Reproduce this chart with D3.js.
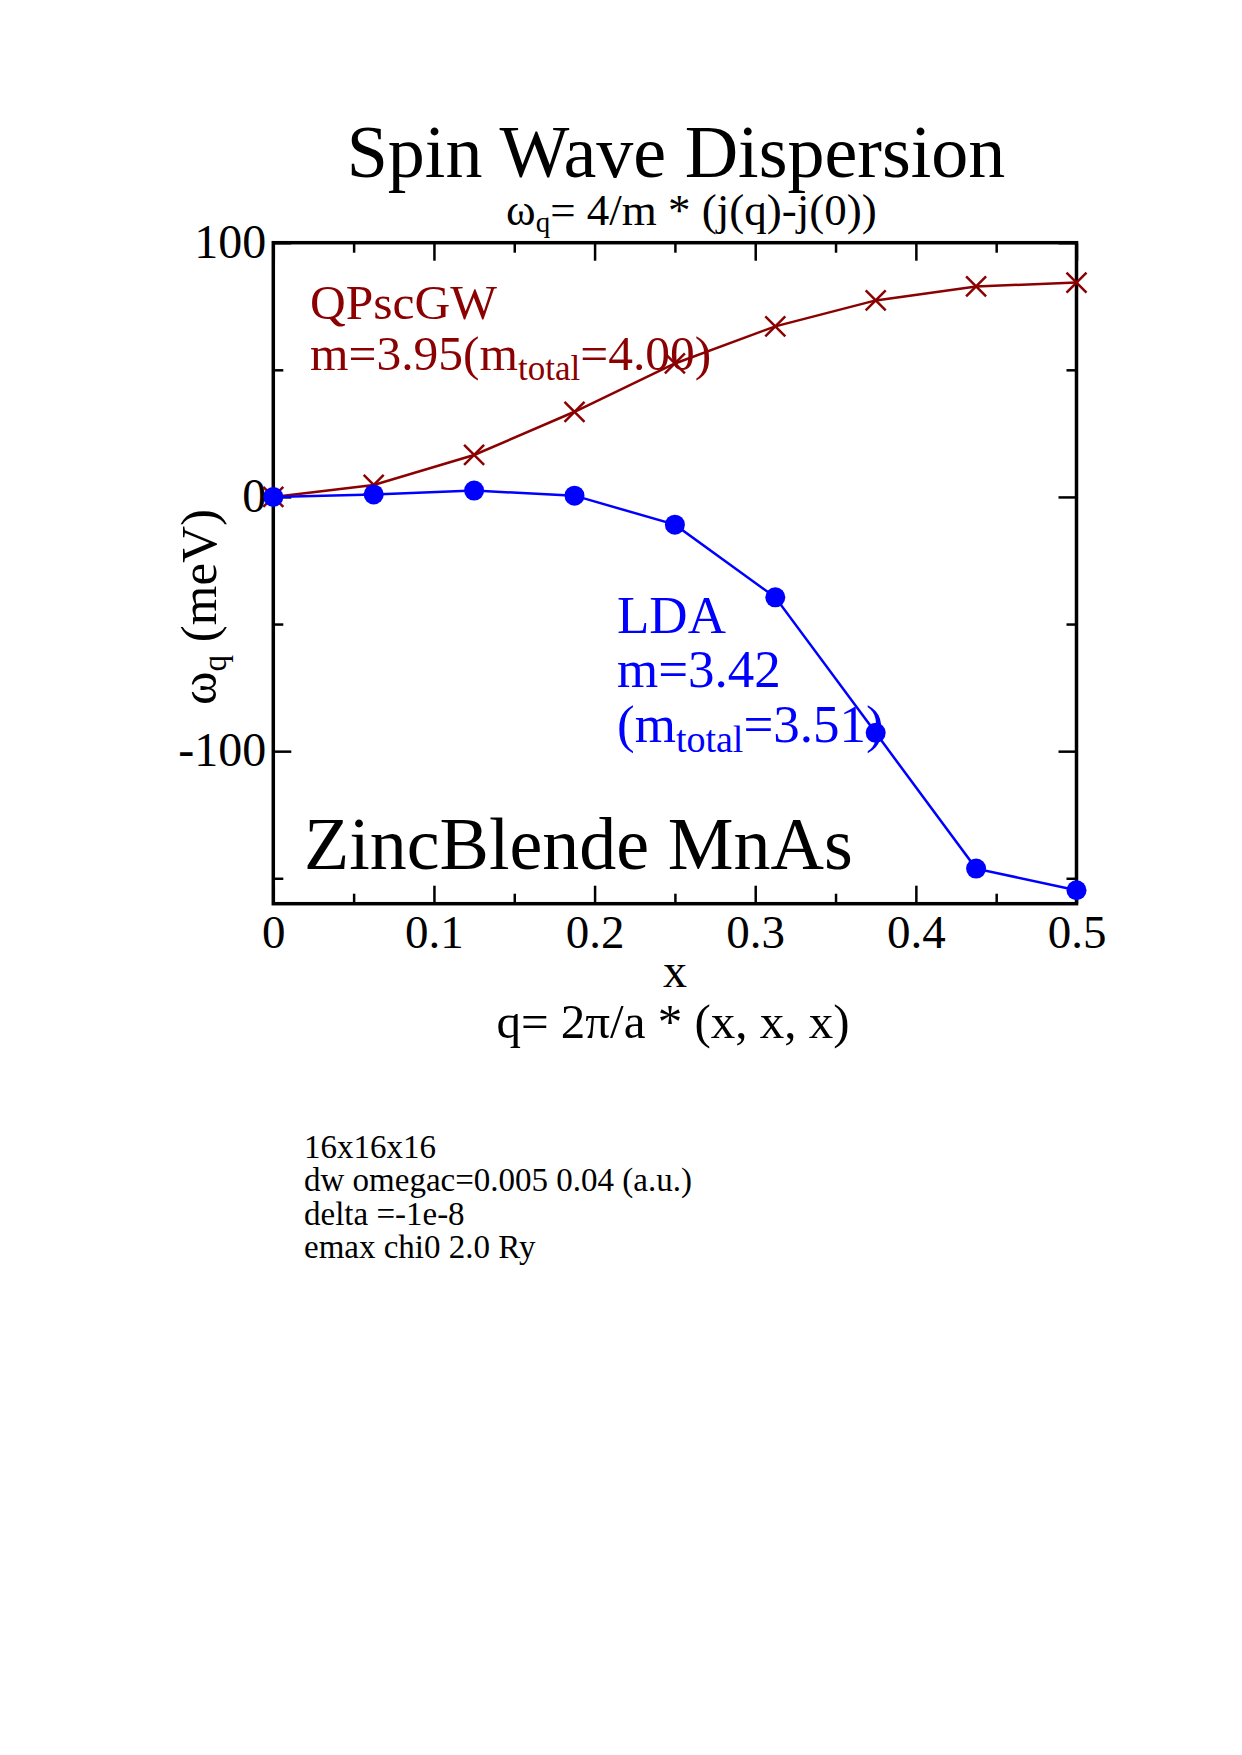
<!DOCTYPE html>
<html>
<head>
<meta charset="utf-8">
<script src="https://cdn.jsdelivr.net/npm/d3@7/dist/d3.min.js"></script>
<style>
  body { margin: 0; background: #fff; }
  svg text { font-family: "Liberation Serif", "Times New Roman", serif; }
</style>
</head>
<body>
<div id="chart"></div>
<script>
// q = 2pi/a * (x,x,x), sampled on the 16x16x16 mesh
const xValues = [0, 0.0625, 0.125, 0.1875, 0.25, 0.3125, 0.375, 0.4375, 0.5];
// spin wave energies in meV
const qpscgwValues = [0, 4.7, 16.5, 33.5, 52.5, 67.1, 77.3, 82.8, 84.3];
const ldaValues = [0, 1.0, 2.5, 0.5, -10.9, -39.5, -92.8, -146.2, -154.7];

const xMajorTicks = [0, 0.1, 0.2, 0.3, 0.4, 0.5];
const xMinorTicks = [0.05, 0.15, 0.25, 0.35, 0.45];
const yMajorTicks = [100, 0, -100];
const yMinorTicks = [50, -50, -150];

const notes = ["16x16x16", "dw omegac=0.005 0.04 (a.u.)", "delta =-1e-8", "emax chi0 2.0 Ry"];

const darkRed = "#8b0000", blue = "#0000ff";

//plot frame in page pixels
const frame = {left: 273.3, right: 1076.5, top: 242.7, bottom: 903.7};

const svg = d3.select("#chart").append("svg")
    .attr("width", 1242)
    .attr("height", 1755);

const xScale = d3.scaleLinear().domain([0, 0.5]).range([frame.left, frame.right]);
const yScale = d3.scaleLinear().domain([-160, 100]).range([frame.bottom, frame.top]);

//titles
svg.append("text")
    .attr("x", 676).attr("y", 177)
    .attr("text-anchor", "middle")
    .attr("font-size", 74)
    .text("Spin Wave Dispersion");

const sub = svg.append("text")
    .attr("x", 506).attr("y", 225)
    .attr("font-size", 45);
sub.append("tspan").text("ω");
sub.append("tspan").attr("font-size", 29).attr("dy", 7).text("q");
sub.append("tspan").attr("dy", -7).text("= 4/m * (j(q)-j(0))");

//axes, ticks pointing inward on all four sides
function styleAxis(g) {
    g.select(".domain").remove();
    g.selectAll(".tick line").attr("stroke", "#000").attr("stroke-width", 2.5);
}

svg.append("g")
    .attr("transform", `translate(0,${frame.bottom})`)
    .call(d3.axisBottom(xScale).tickValues(xMajorTicks).tickSize(-18).tickFormat(d3.format("")))
    .call(styleAxis)
    .call(g => g.selectAll("text")
        .attr("y", 44.5).attr("dy", 0)
        .attr("fill", "#000")
        .attr("font-size", 47)
        .attr("font-family", "Liberation Serif, serif"));
svg.append("g")
    .attr("transform", `translate(0,${frame.bottom})`)
    .call(d3.axisBottom(xScale).tickValues(xMinorTicks).tickSize(-10).tickFormat(""))
    .call(styleAxis);
svg.append("g")
    .attr("transform", `translate(0,${frame.top})`)
    .call(d3.axisTop(xScale).tickValues(xMajorTicks).tickSize(-18).tickFormat(""))
    .call(styleAxis);
svg.append("g")
    .attr("transform", `translate(0,${frame.top})`)
    .call(d3.axisTop(xScale).tickValues(xMinorTicks).tickSize(-10).tickFormat(""))
    .call(styleAxis);

svg.append("g")
    .attr("transform", `translate(${frame.left},0)`)
    .call(d3.axisLeft(yScale).tickValues(yMajorTicks).tickSize(-18).tickFormat(d3.format("d")))
    .call(styleAxis)
    .call(g => g.selectAll("text")
        .attr("x", -7).attr("dy", "0.3em")
        .attr("fill", "#000")
        .attr("font-size", 48)
        .attr("font-family", "Liberation Serif, serif")
        .text(d => d < 0 ? "-" + Math.abs(d) : d));
svg.append("g")
    .attr("transform", `translate(${frame.left},0)`)
    .call(d3.axisLeft(yScale).tickValues(yMinorTicks).tickSize(-10).tickFormat(""))
    .call(styleAxis);
svg.append("g")
    .attr("transform", `translate(${frame.right},0)`)
    .call(d3.axisRight(yScale).tickValues(yMajorTicks).tickSize(-18).tickFormat(""))
    .call(styleAxis);
svg.append("g")
    .attr("transform", `translate(${frame.right},0)`)
    .call(d3.axisRight(yScale).tickValues(yMinorTicks).tickSize(-10).tickFormat(""))
    .call(styleAxis);

svg.append("rect")
    .attr("x", frame.left).attr("y", frame.top)
    .attr("width", frame.right - frame.left)
    .attr("height", frame.bottom - frame.top)
    .attr("fill", "none")
    .attr("stroke", "#000")
    .attr("stroke-width", 3.5);

//axis labels
svg.append("text")
    .attr("x", 675).attr("y", 987)
    .attr("text-anchor", "middle")
    .attr("font-size", 48)
    .text("x");
svg.append("text")
    .attr("x", 673).attr("y", 1038)
    .attr("text-anchor", "middle")
    .attr("font-size", 49)
    .text("q= 2π/a * (x, x, x)");

const yLab = svg.append("text")
    .attr("transform", "translate(216,607) rotate(-90)")
    .attr("text-anchor", "middle")
    .attr("font-size", 51);
yLab.append("tspan").text("ω");
yLab.append("tspan").attr("font-size", 33).attr("dy", 10).text("q");
yLab.append("tspan").attr("dy", -10).text(" (meV)");

//annotations inside the plot
const gwLabel = svg.append("g").attr("fill", darkRed).attr("font-size", 49.5);
gwLabel.append("text").attr("x", 310).attr("y", 319).text("QPscGW");
const gwLine2 = gwLabel.append("text").attr("x", 310).attr("y", 370);
gwLine2.append("tspan").text("m=3.95(m");
gwLine2.append("tspan").attr("font-size", 35).attr("dy", 10).text("total");
gwLine2.append("tspan").attr("dy", -10).text("=4.00)");

const ldaLabel = svg.append("g").attr("fill", blue).attr("font-size", 53);
ldaLabel.append("text").attr("x", 617).attr("y", 633).text("LDA");
ldaLabel.append("text").attr("x", 617).attr("y", 687).text("m=3.42");
const ldaLine3 = ldaLabel.append("text").attr("x", 617).attr("y", 742);
ldaLine3.append("tspan").text("(m");
ldaLine3.append("tspan").attr("font-size", 38).attr("dy", 10).text("total");
ldaLine3.append("tspan").attr("dy", -10).text("=3.51)");

svg.append("text")
    .attr("x", 304).attr("y", 869)
    .attr("font-size", 74)
    .text("ZincBlende MnAs");

//QPscGW series: line with x markers
const gwData = xValues.map((x, i) => ({x: x, y: qpscgwValues[i]}));
const ldaData = xValues.map((x, i) => ({x: x, y: ldaValues[i]}));

const line = d3.line()
    .x(d => xScale(d.x))
    .y(d => yScale(d.y));

svg.append("path")
    .datum(gwData)
    .attr("fill", "none")
    .attr("stroke", darkRed)
    .attr("stroke-width", 2.5)
    .attr("d", line);

const cross = 10;
svg.selectAll(".gwmark")
    .data(gwData)
    .enter()
    .append("path")
    .attr("class", "gwmark")
    .attr("fill", "none")
    .attr("stroke", darkRed)
    .attr("stroke-width", 2.5)
    .attr("d", d => {
        const cx = xScale(d.x), cy = yScale(d.y);
        return `M${cx - cross},${cy - cross}L${cx + cross},${cy + cross}M${cx - cross},${cy + cross}L${cx + cross},${cy - cross}`;
    });

//LDA series: line with filled circles
svg.append("path")
    .datum(ldaData)
    .attr("fill", "none")
    .attr("stroke", blue)
    .attr("stroke-width", 2.5)
    .attr("d", line);

svg.selectAll(".ldamark")
    .data(ldaData)
    .enter()
    .append("circle")
    .attr("class", "ldamark")
    .attr("fill", blue)
    .attr("cx", d => xScale(d.x))
    .attr("cy", d => yScale(d.y))
    .attr("r", 10);

//run parameters below the plot
svg.append("g")
    .attr("font-size", 33)
    .selectAll("text")
    .data(notes)
    .enter()
    .append("text")
    .attr("x", 304)
    .attr("y", (d, i) => 1158 + i * 33.4)
    .text(d => d);
</script>
</body>
</html>
